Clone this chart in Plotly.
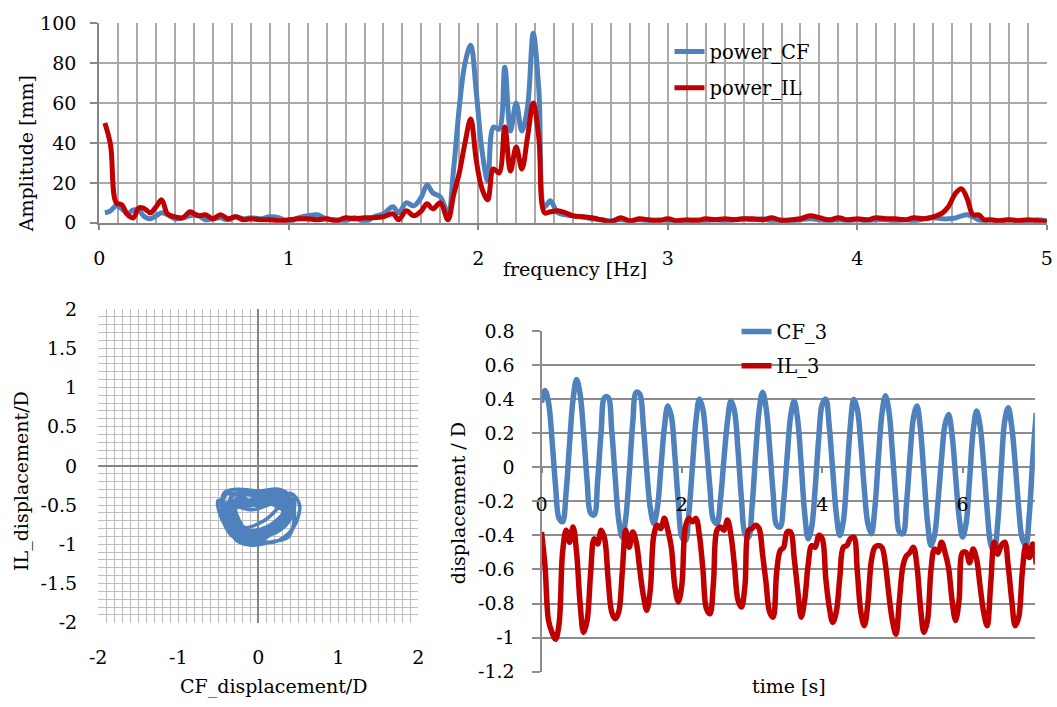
import plotly.graph_objects as go

# ---------------- data ----------------
freq = [0.03, 0.06, 0.09, 0.12, 0.15, 0.18, 0.21, 0.24, 0.27, 0.30,
        0.33, 0.36, 0.40, 0.44, 0.48, 0.52, 0.56, 0.60, 0.64, 0.68,
        0.72, 0.76, 0.80, 0.85, 0.90, 0.95, 1.00, 1.05, 1.10, 1.15,
        1.20, 1.25, 1.30, 1.35, 1.40, 1.45, 1.50, 1.55, 1.58, 1.62,
        1.66, 1.70, 1.73, 1.76, 1.80, 1.84, 1.87, 1.90, 1.93, 1.96,
        1.99, 2.02, 2.05, 2.08, 2.11, 2.14, 2.17, 2.20, 2.23, 2.26,
        2.29, 2.32, 2.35, 2.38, 2.42, 2.46, 2.50, 2.55, 2.60, 2.65,
        2.70, 2.75, 2.80, 2.85, 2.90, 2.95, 3.00, 3.05, 3.10, 3.15,
        3.20, 3.25, 3.30, 3.35, 3.40, 3.45, 3.50, 3.55, 3.60, 3.65,
        3.70, 3.75, 3.80, 3.85, 3.90, 3.95, 4.00, 4.05, 4.10, 4.15,
        4.20, 4.25, 4.30, 4.35, 4.40, 4.45, 4.48, 4.52, 4.55, 4.58,
        4.61, 4.64, 4.67, 4.70, 4.75, 4.80, 4.85, 4.90, 4.95, 5.00]

power_cf = [5, 6, 8.5, 7, 4.5, 6.5, 6, 3, 2, 3.5,
            5, 4, 2, 2.5, 3.5, 4, 1.5, 2, 2.5, 1.5,
            3, 2, 2.5, 2, 3, 2.5, 0.5, 2.5, 3.5, 4,
            2, 1.5, 1, 2.5, 0.5, 3, 4.5, 8, 5, 10,
            8.5, 13, 19, 15, 13, 5, 27, 58, 80, 89,
            65, 36, 21, 48, 47, 78, 46, 60, 46, 58,
            95, 66, 8, 11, 5, 4, 3.5, 3, 2, 1.5,
            1, 1.5, 1, 1.5, 1, 1.5, 1, 0.5, 1, 1.5,
            1, 1.5, 1, 1.5, 2, 1.5, 2, 1, 1.5, 1,
            1.5, 2, 1.5, 1, 1.5, 1, 1.5, 1, 1.5, 1.5,
            1, 1.5, 1, 2, 2.5, 2, 2, 2.5, 3.5, 4,
            3, 1.5, 1, 1.5, 1, 1.5, 1, 1, 1.5, 1]

power_il = [50, 39, 10, 9, 4, 2.5, 7.5, 7, 5, 8,
            11.5, 4.5, 3, 2.5, 5.5, 3.5, 4, 2, 4, 2,
            3, 1.5, 2, 1.5, 1.5, 1, 1.5, 2, 2, 1.5,
            2, 1, 2.5, 2, 2.5, 2.5, 3, 4.5, 1.5, 6,
            3.5, 6, 9.5, 7, 10, 1.5, 14, 25, 40, 52,
            31, 17, 11.5, 27, 25, 48, 26, 38, 27, 43,
            60, 42, 5, 5.5, 6, 5, 3.5, 3, 2.5, 1.5,
            0.5, 2.5, 1, 2, 1.5, 1, 2, 1, 1.5, 1,
            2, 1.5, 2, 1.5, 2, 2, 1.5, 2.5, 1, 1.5,
            2, 3.5, 2.5, 1.5, 2.5, 1.5, 2, 1.5, 2.5, 2,
            2, 1.5, 2.5, 2, 3, 5, 8, 15, 17, 12,
            4, 4, 1.5, 1.5, 1, 1.5, 1, 1.5, 1, 0.5]

time_s = [round(i * 0.05, 2) for i in range(142)]

cf_3 = [0.38, 0.45, 0.38, 0.16, -0.11, -0.30, -0.32, -0.15, 0.14, 0.40,
        0.515, 0.43, 0.20, -0.08, -0.27, -0.28, -0.08, 0.21, 0.41, 0.41,
        0.22, -0.06, -0.31, -0.41, -0.30, -0.04, 0.26, 0.44, 0.43, 0.25,
        -0.02, -0.24, -0.33, -0.24, -0.01, 0.23, 0.36, 0.30, 0.07, -0.21,
        -0.41, -0.43, -0.27, 0.00, 0.27, 0.40, 0.34, 0.13, -0.12, -0.31,
        -0.33, -0.19, 0.05, 0.27, 0.39, 0.33, 0.10, -0.19, -0.39, -0.41,
        -0.23, 0.07, 0.33, 0.44, 0.35, 0.12, -0.15, -0.34, -0.35, -0.20,
        0.06, 0.30, 0.39, 0.28, 0.02, -0.27, -0.42, -0.35, -0.12, 0.17,
        0.37, 0.40, 0.24, -0.02, -0.27, -0.40, -0.32, -0.06, 0.24, 0.40,
        0.34, 0.14, -0.13, -0.33, -0.39, -0.24, 0.05, 0.31, 0.42, 0.33,
        0.09, -0.19, -0.38, -0.39, -0.22, 0.06, 0.29, 0.36, 0.22, -0.05,
        -0.32, -0.46, -0.40, -0.20, 0.05, 0.25, 0.31, 0.19, -0.05, -0.29,
        -0.41, -0.33, -0.07, 0.21, 0.33, 0.24, 0.02, -0.25, -0.45, -0.50,
        -0.33, -0.01, 0.27, 0.35, 0.24, 0.02, -0.24, -0.42, -0.46, -0.28,
        0.05, 0.32]

il_3 = [-0.38, -0.58, -0.90, -0.97, -1.01, -0.92, -0.50, -0.37, -0.44, -0.35,
        -0.50, -0.80, -0.97, -0.90, -0.62, -0.42, -0.45, -0.37, -0.42, -0.66,
        -0.85, -0.89, -0.85, -0.62, -0.37, -0.47, -0.38, -0.44, -0.60, -0.75,
        -0.84, -0.72, -0.40, -0.34, -0.36, -0.30, -0.37, -0.47, -0.70, -0.79,
        -0.69, -0.35, -0.30, -0.32, -0.30, -0.40, -0.60, -0.83, -0.86, -0.68,
        -0.37, -0.35, -0.37, -0.31, -0.40, -0.58, -0.78, -0.82, -0.69, -0.37,
        -0.36, -0.34, -0.36, -0.51, -0.68, -0.85, -0.88, -0.62, -0.49, -0.47,
        -0.38, -0.38, -0.53, -0.72, -0.88, -0.78, -0.57, -0.46, -0.47, -0.40,
        -0.42, -0.65, -0.82, -0.91, -0.85, -0.65, -0.47, -0.46, -0.42, -0.41,
        -0.61, -0.85, -0.93, -0.80, -0.55, -0.47, -0.46, -0.47, -0.57, -0.75,
        -0.90, -0.98, -0.78, -0.58, -0.52, -0.50, -0.47, -0.58, -0.82, -0.97,
        -0.90, -0.60, -0.48, -0.50, -0.44, -0.50, -0.59, -0.78, -0.90, -0.78,
        -0.50, -0.50, -0.56, -0.48, -0.54, -0.70, -0.85, -0.93, -0.69, -0.44,
        -0.51, -0.46, -0.44, -0.58, -0.78, -0.93, -0.88, -0.62, -0.46, -0.53,
        -0.45, -0.57]

top_x_ticks = [0, 1, 2, 3, 4, 5]
top_x_labels = ["0", "1", "2", "3", "4", "5"]
top_y_ticks = [0, 20, 40, 60, 80, 100]
top_y_labels = ["0", "20", "40", "60", "80", "100"]
liss_x_ticks = [-2, -1, 0, 1, 2]
liss_x_labels = ["-2", "-1", "0", "1", "2"]
liss_y_ticks = [-2, -1.5, -1, -0.5, 0, 0.5, 1, 1.5, 2]
liss_y_labels = ["-2", "-1.5", "-1", "-0.5", "0", "0.5", "1", "1.5", "2"]
ts_x_ticks = [0, 2, 4, 6]
ts_x_labels = ["0", "2", "4", "6"]
ts_y_ticks = [-1.2, -1.0, -0.8, -0.6, -0.4, -0.2, 0, 0.2, 0.4, 0.6, 0.8]
ts_y_labels = ["-1.2", "-1", "-0.8", "-0.6", "-0.4", "-0.2", "0", "0.2", "0.4", "0.6", "0.8"]

# ---------------- styling ----------------
W, H = 1057, 707
BLUE = "#4F81BD"
RED = "#C00000"
FONT = "DejaVu Serif"
TICKFONT = dict(family=FONT, size=19, color="black")

# the photographed page carries a small page margin; map target pixel
# positions to layout pixel positions accordingly
SX, OX = 1073 / 1057, 8
SY, OY = 729 / 707, 10


def px(x):
    return (x * SX - OX) / W


def py(y):
    return 1 - (y * SY - OY) / H


fig = go.Figure()

# top: spectrum
fig.add_trace(go.Scatter(x=freq, y=power_cf, mode="lines", name="power_CF",
                         line=dict(color=BLUE, width=5, shape="spline"),
                         xaxis="x", yaxis="y", legend="legend", legendgroup="a"))
fig.add_trace(go.Scatter(x=freq, y=power_il, mode="lines", name="power_IL",
                         line=dict(color=RED, width=5, shape="spline"),
                         xaxis="x", yaxis="y", legend="legend", legendgroup="b"))

# bottom left: orbit
fig.add_trace(go.Scatter(x=cf_3, y=il_3, mode="lines", name="orbit",
                         line=dict(color=BLUE, width=3.6, shape="spline"),
                         xaxis="x2", yaxis="y2", showlegend=False))

# bottom right: time series
fig.add_trace(go.Scatter(x=time_s, y=cf_3, mode="lines", name="CF_3",
                         line=dict(color=BLUE, width=5.5, shape="spline"),
                         xaxis="x3", yaxis="y3", legend="legend2", legendgroup="c"))
fig.add_trace(go.Scatter(x=time_s, y=il_3, mode="lines", name="IL_3",
                         line=dict(color=RED, width=5.5, shape="spline"),
                         xaxis="x3", yaxis="y3", legend="legend2", legendgroup="d"))

GRID_TOP = "#A9A9A9"
GRID_LISS = "#BDBDBD"
GRID_TS = "#8C8C8C"
AXIS = "#868686"

fig.update_layout(
    width=W, height=H,
    margin=dict(l=0, r=0, t=0, b=0),
    paper_bgcolor="white", plot_bgcolor="white",
    font=dict(family=FONT, size=19, color="black"),
    xaxis=dict(domain=[px(98), px(1045)], anchor="y", range=[0, 5],
               tickmode="array", tickvals=top_x_ticks, ticktext=top_x_labels,
               showgrid=True, gridcolor=GRID_TOP, gridwidth=1.5,
               minor=dict(tickmode="linear", tick0=0, dtick=0.1, showgrid=True,
                          gridcolor=GRID_TOP, gridwidth=1.5),
               showline=True, linecolor=AXIS, linewidth=2,
               ticks="outside", ticklen=5, tickcolor=AXIS, tickwidth=2,
               zeroline=False, tickfont=TICKFONT, ticklabelstandoff=12,
               ticklabeloverflow="allow"),
    yaxis=dict(domain=[py(221.7), py(22)], anchor="x", range=[0, 100],
               tickmode="array", tickvals=top_y_ticks, ticktext=top_y_labels,
               showgrid=True, gridcolor=GRID_TOP, gridwidth=1.5,
               showline=True, linecolor=AXIS, linewidth=2,
               ticks="outside", ticklen=7, tickcolor=AXIS, tickwidth=2,
               zeroline=False, tickfont=TICKFONT, ticklabelstandoff=10),
    xaxis2=dict(domain=[px(97), px(417)], anchor="y2", range=[-2, 2],
                tickmode="array", tickvals=liss_x_ticks, ticktext=liss_x_labels,
                showgrid=True, gridcolor=GRID_LISS, gridwidth=1,
                minor=dict(tickmode="linear", tick0=-2, dtick=0.1, showgrid=True,
                           gridcolor=GRID_LISS, gridwidth=1),
                zeroline=True, zerolinecolor=AXIS, zerolinewidth=2,
                showline=False, ticks="", tickfont=TICKFONT, ticklabelstandoff=21),
    yaxis2=dict(domain=[py(622), py(308)], anchor="x2", range=[-2, 2],
                tickmode="array", tickvals=liss_y_ticks, ticktext=liss_y_labels,
                showgrid=True, gridcolor=GRID_LISS, gridwidth=1,
                minor=dict(tickmode="linear", tick0=-2, dtick=0.1, showgrid=True,
                           gridcolor=GRID_LISS, gridwidth=1),
                zeroline=True, zerolinecolor=AXIS, zerolinewidth=2,
                showline=False, ticks="", tickfont=TICKFONT, ticklabelstandoff=20),
    xaxis3=dict(domain=[px(540), px(1033)], anchor="free", position=py(466.4),
                range=[0, 7.03],
                tickmode="array", tickvals=ts_x_ticks, ticktext=ts_x_labels,
                showgrid=False, showline=False, zeroline=False,
                ticks="outside", ticklen=5, tickcolor=AXIS, tickwidth=2,
                tickfont=TICKFONT, ticklabelstandoff=15),
    yaxis3=dict(domain=[py(671), py(330)], anchor="x3", range=[-1.2, 0.8],
                tickmode="array", tickvals=ts_y_ticks, ticktext=ts_y_labels,
                showgrid=True, gridcolor=GRID_TS, gridwidth=2,
                showline=True, linecolor=GRID_TS, linewidth=2,
                ticks="outside", ticklen=8, tickcolor=GRID_TS, tickwidth=2,
                zeroline=False, tickfont=TICKFONT, ticklabelstandoff=13),
    legend=dict(x=(670) / W, y=1 - 22 / H, xanchor="left", yanchor="top",
                bgcolor="rgba(0,0,0,0)", font=dict(family=FONT, size=19.5, color="black"),
                tracegroupgap=8, itemwidth=30),
    legend2=dict(x=(738) / W, y=1 - 311 / H, xanchor="left", yanchor="top",
                 bgcolor="rgba(0,0,0,0)", font=dict(family=FONT, size=19.5, color="black"),
                 tracegroupgap=6, itemwidth=30),
    showlegend=True,
)

TITLEFONT = dict(family=FONT, size=19, color="black")
annotations = [
    dict(text="Amplitude [mm]", x=px(25), y=py(153), textangle=-90),
    dict(text="frequency [Hz]", x=px(573), y=py(268), textangle=0),
    dict(text="IL_displacement/D", x=px(21), y=py(480), textangle=-90),
    dict(text="CF_displacement/D", x=px(272), y=1 - 697 / H, textangle=0),
    dict(text="displacement / D", x=px(456), y=py(502), textangle=-90),
    dict(text="time [s]", x=px(787), y=1 - 697 / H, textangle=0),
]
for a in annotations:
    fig.add_annotation(xref="paper", yref="paper", showarrow=False,
                       xanchor="center", yanchor="middle", font=TITLEFONT, **a)

fig.write_html("out.html")
